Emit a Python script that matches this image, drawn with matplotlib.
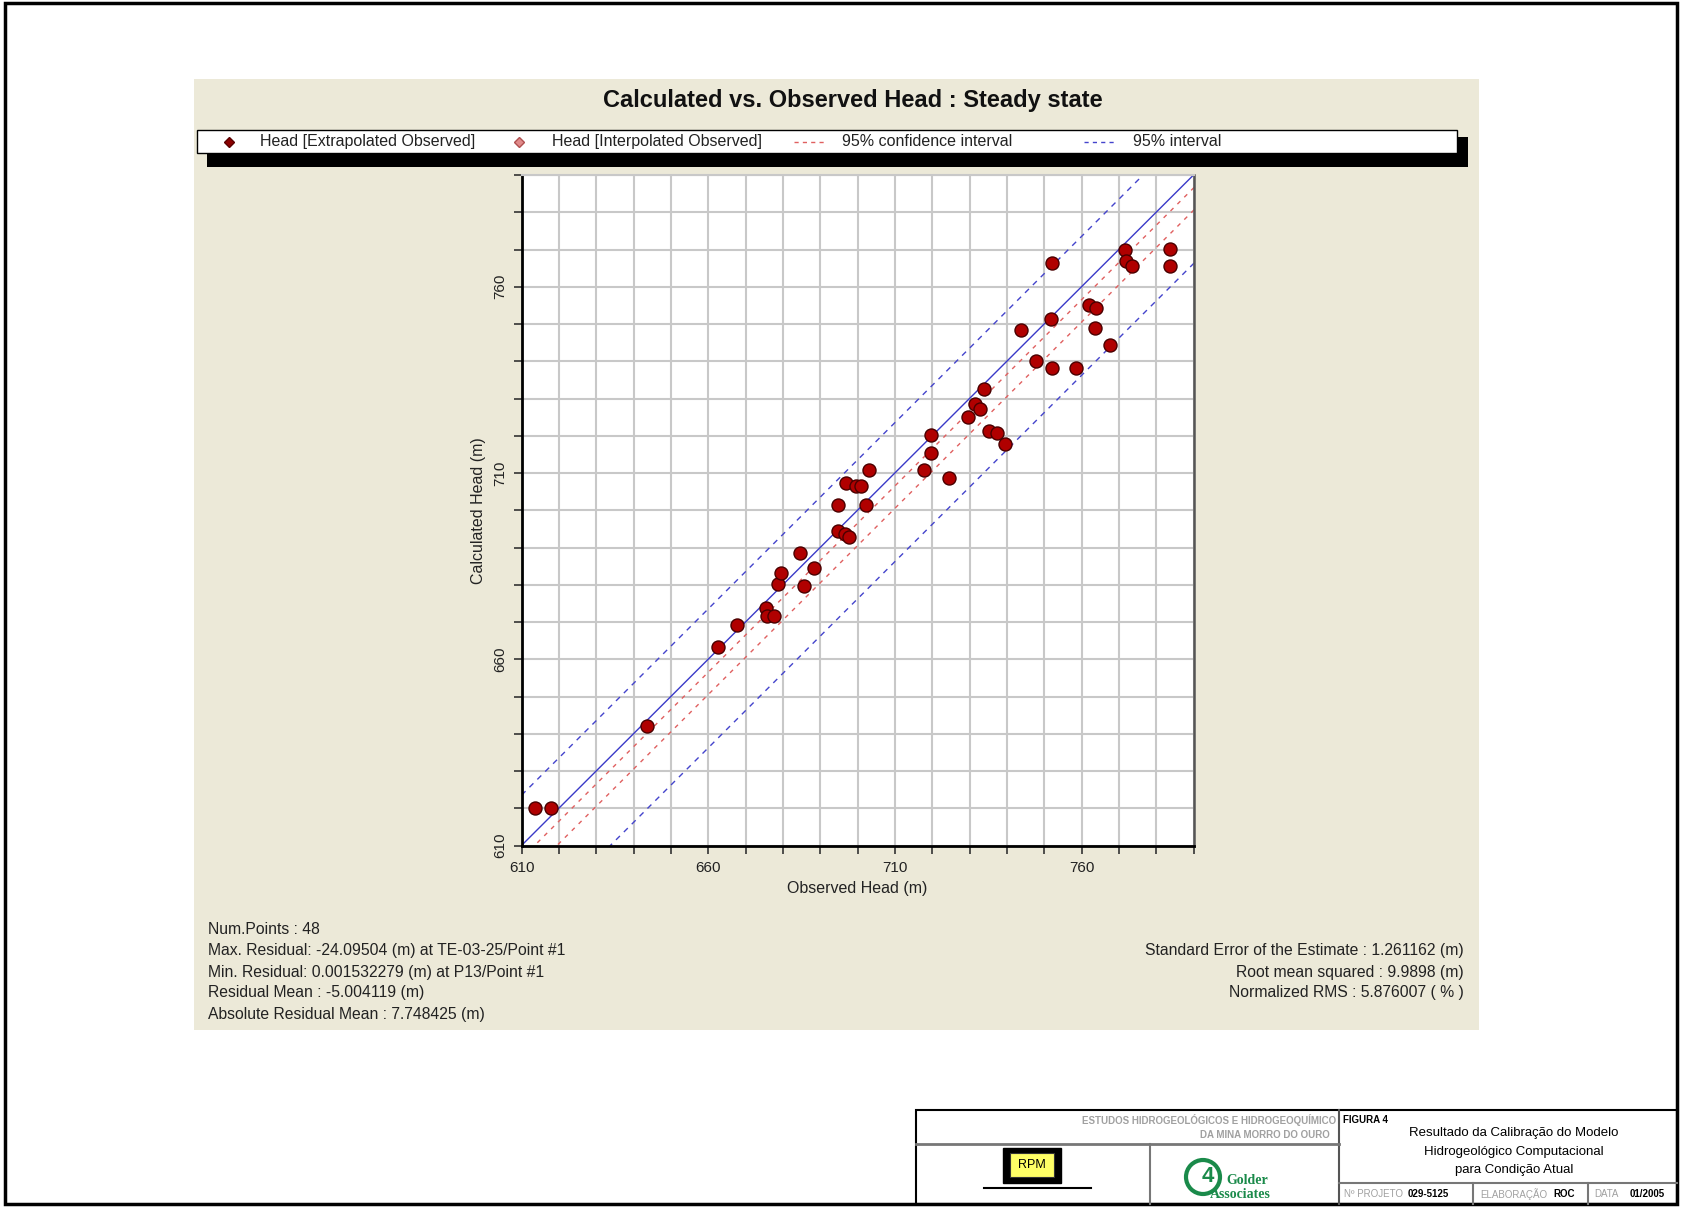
import numpy as np
import matplotlib
matplotlib.use("Agg")
import matplotlib.pyplot as plt
from matplotlib.patches import Rectangle, Circle
from matplotlib.ticker import FixedLocator, MultipleLocator

plt.rcParams['font.family'] = ['Liberation Sans', 'DejaVu Sans']

# observed vs calculated heads (m)
observed = [613.7, 618.0, 643.7, 662.7, 667.7, 675.6, 675.8, 677.5, 678.8, 679.6,
            685.6, 684.7, 688.3, 694.7, 696.7, 697.6, 694.7, 702.2, 696.9, 699.6,
            700.9, 703.1, 717.8, 719.8, 719.6, 724.4, 729.6, 731.6, 732.9, 733.8,
            735.1, 737.3, 739.6, 743.8, 747.8, 751.8, 752.2, 752.1, 758.5, 762.1,
            764.0, 763.7, 767.7, 771.7, 771.9, 773.5, 783.7, 783.7]
calculated = [620.1, 620.1, 642.1, 663.3, 669.1, 673.7, 671.6, 671.6, 680.2, 683.2,
              679.6, 688.5, 684.4, 694.4, 693.6, 692.9, 701.3, 701.3, 707.3, 706.6,
              706.4, 710.9, 710.9, 715.5, 720.2, 708.6, 724.9, 728.5, 727.3, 732.5,
              721.3, 720.7, 717.8, 748.4, 740.1, 751.4, 738.3, 766.3, 738.3, 755.0,
              754.4, 749.0, 744.3, 769.8, 766.9, 765.5, 770.2, 765.7]

# offsets of the interval lines from the 1:1 line (m)
conf_offsets = [-3.5, -9.5]
pred_offsets = [13.5, -23.8]

axis_min, axis_max = 610, 790
major_ticks = [610, 660, 710, 760]

title = "Calculated vs. Observed Head : Steady state"
legend_labels = ["Head [Extrapolated Observed]", "Head [Interpolated Observed]",
                 "95% confidence interval", "95% interval"]
stats_left = ["Num.Points : 48",
              "Max. Residual: -24.09504 (m) at TE-03-25/Point #1",
              "Min. Residual: 0.001532279 (m) at P13/Point #1",
              "Residual Mean : -5.004119 (m)",
              "Absolute Residual Mean : 7.748425 (m)"]
stats_right = ["Standard Error of the Estimate : 1.261162 (m)",
               "Root mean squared : 9.9898 (m)",
               "Normalized RMS : 5.876007 ( % )"]

W, H = 1686, 1208
fig = plt.figure(figsize=(W / 100, H / 100), dpi=100)

# page layer in pixel coordinates
bg = fig.add_axes([0, 0, 1, 1])
bg.set_xlim(0, W)
bg.set_ylim(H, 0)
bg.axis('off')

bg.add_patch(Rectangle((5, 3), 1672, 1201, fill=False, ec='black', lw=2.5))
bg.add_patch(Rectangle((193.5, 78.5), 1285, 951.5, fc='#ECE9D8', ec='none'))

bg.text(852.7, 101, title, ha='center', va='center', fontsize=17, fontweight='bold',
        color='#111111')

# legend bar with shadow
bg.add_patch(Rectangle((206.5, 137), 1261, 30, fc='black', ec='none'))
bg.add_patch(Rectangle((196.8, 130), 1260, 22.7, fc='white', ec='black', lw=1))
ly = 141.5
bg.plot([229], [ly], marker='D', ms=5, mfc='#8b0000', mec='#5a0000', ls='none')
bg.plot([519], [ly], marker='D', ms=5, mfc='#e08a8a', mec='#b05050', ls='none')
bg.plot([793.6, 825.8], [ly, ly], color='#e06060', lw=1, dashes=(3, 3))
bg.plot([1084, 1116], [ly, ly], color='#4444cc', lw=1, dashes=(3, 3))
for x, lab in zip([260, 551.6, 842, 1133], legend_labels):
    bg.text(x, ly, lab, ha='left', va='center', fontsize=11.5, color='#222222')

for y, s in zip([930, 950.6, 972, 992.5, 1014], stats_left):
    bg.text(207.5, y, s, ha='left', va='center', fontsize=11.3, color='#222222')
for y, s in zip([950.6, 972, 992.5], stats_right):
    bg.text(1463.5, y, s, ha='right', va='center', fontsize=11.3, color='#222222')

# title block bottom right
bg.add_patch(Rectangle((916, 1110), 761, 94, fill=False, ec='black', lw=1.5))
bg.plot([1338.7, 1338.7], [1110, 1204], color='#555555', lw=1.5)
bg.plot([916, 1338.7], [1144, 1144], color='#777777', lw=2)
bg.plot([1149.5, 1149.5], [1144, 1204], color='#777777', lw=1.5)
bg.plot([1338.7, 1677], [1183, 1183], color='#777777', lw=1.5)
bg.plot([1473, 1473], [1183, 1204], color='#777777', lw=1.5)
bg.plot([1588, 1588], [1183, 1204], color='#777777', lw=1.5)
bg.text(1336, 1120, "ESTUDOS HIDROGEOLÓGICOS E HIDROGEOQUÍMICO", ha='right', va='center',
        fontsize=7, fontweight='bold', color='#a0a0a0')
bg.text(1330, 1135, "DA MINA MORRO DO OURO", ha='right', va='center',
        fontsize=7, fontweight='bold', color='#a0a0a0')
bg.text(1343, 1120, "FIGURA 4", ha='left', va='center', fontsize=7, fontweight='bold')
for y, s in zip([1133.4, 1151.6, 1170], ["Resultado da Calibração do Modelo",
                                         "Hidrogeológico Computacional",
                                         "para Condição Atual"]):
    bg.text(1514, y, s, ha='center', va='center', fontsize=9.5)
bg.text(1344, 1194, "Nº PROJETO", ha='left', va='center', fontsize=7, color='#a0a0a0')
bg.text(1408, 1194, "029-5125", ha='left', va='center', fontsize=7, fontweight='bold')
bg.text(1480, 1194, "ELABORAÇÃO", ha='left', va='center', fontsize=7, color='#a0a0a0')
bg.text(1553, 1194, "ROC", ha='left', va='center', fontsize=7, fontweight='bold')
bg.text(1594, 1194, "DATA", ha='left', va='center', fontsize=7, color='#a0a0a0')
bg.text(1630, 1194, "01/2005", ha='left', va='center', fontsize=7, fontweight='bold')

# RPM logo
bg.add_patch(Rectangle((1003, 1148), 58, 35, fc='black', ec='black'))
bg.add_patch(Rectangle((1010, 1153), 44, 24, fc='#ffff66', ec='#333333', lw=0.8))
bg.text(1032, 1165, "RPM", ha='center', va='center', fontsize=9)
bg.plot([984, 1091], [1188, 1188], color='black', lw=1.5)

# Golder logo
bg.add_patch(Circle((1203, 1177), 17, fill=False, ec='#1a8a4a', lw=3))
bg.text(1208, 1177, "4", ha='center', va='center', fontsize=16, fontweight='bold',
        color='#1a8a4a')
bg.text(1226, 1180, "Golder", ha='left', va='center', fontsize=10, fontweight='bold',
        family='Liberation Serif', color='#1a8a4a')
bg.text(1210, 1194, "Associates", ha='left', va='center', fontsize=10, fontweight='bold',
        family='Liberation Serif', color='#1a8a4a')

# chart
left, right, top, bottom = 521.5, 1193.5, 175, 845.5
ax = fig.add_axes([left / W, 1 - bottom / H, (right - left) / W, (bottom - top) / H])
ax.set_facecolor('white')
ax.set_xlim(axis_min, axis_max)
ax.set_ylim(axis_min, axis_max)

line_x = np.array([axis_min - 40, axis_max + 40])
ax.plot(line_x, line_x, color='#3a3ac8', lw=1, zorder=2)
for off in conf_offsets:
    ax.plot(line_x, line_x + off, color='#e06060', lw=1, dashes=(3, 4), zorder=2)
for off in pred_offsets:
    ax.plot(line_x, line_x + off, color='#4444cc', lw=1, dashes=(4, 4), zorder=2)

ax.scatter(observed, calculated, s=88, c='#b00000', edgecolors='#4a0000',
           linewidths=1, zorder=3)

ax.xaxis.set_major_locator(FixedLocator(major_ticks))
ax.yaxis.set_major_locator(FixedLocator(major_ticks))
ax.xaxis.set_minor_locator(MultipleLocator(10))
ax.yaxis.set_minor_locator(MultipleLocator(10))
ax.grid(which='both', color='#c8c8c8', lw=1.5, zorder=0)
ax.set_axisbelow(True)
ax.tick_params(which='both', direction='out', length=6, width=1.2, color='#333333',
               labelsize=11, labelcolor='#222222')
ax.tick_params(axis='x', pad=5)
ax.tick_params(axis='y', pad=4)
for lab in ax.get_yticklabels():
    lab.set_rotation(90)
    lab.set_va('center')

for side in ['left', 'bottom']:
    ax.spines[side].set_color('black')
    ax.spines[side].set_linewidth(2)
ax.spines['right'].set_color('#555555')
ax.spines['right'].set_linewidth(1.8)
ax.spines['top'].set_color('#c8c8c8')
ax.spines['top'].set_linewidth(1.5)

ax.set_xlabel("Observed Head (m)", fontsize=11.5, color='#222222', va='center')
ax.xaxis.set_label_coords(0.5, -(888 - bottom) / (bottom - top))
ax.set_ylabel("Calculated Head (m)", fontsize=11.5, color='#222222', va='center')
ax.yaxis.set_label_coords(-(left - 478.5) / (right - left), 0.5)

fig.savefig("out.png", dpi=100)
